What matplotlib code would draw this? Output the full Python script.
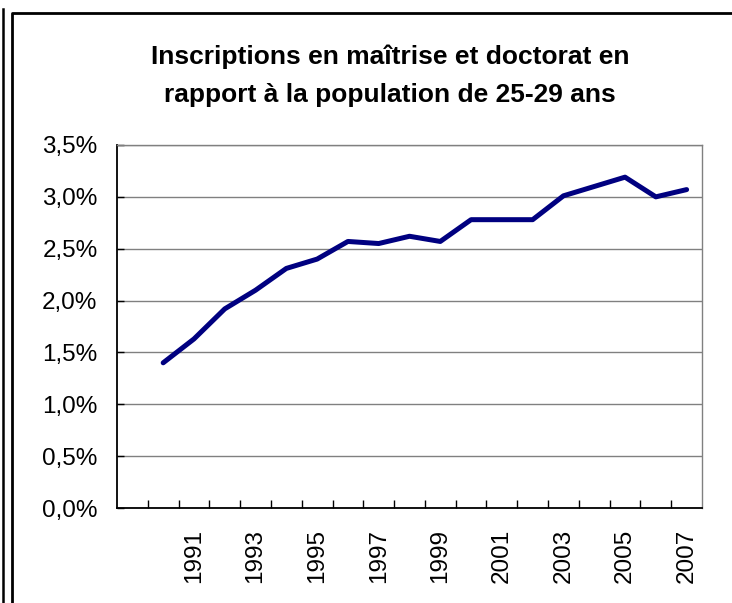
import matplotlib
matplotlib.use('Agg')
import matplotlib.pyplot as plt
from matplotlib.lines import Line2D
from matplotlib.ticker import FuncFormatter, MultipleLocator

plt.rcParams['font.family'] = ['Liberation Sans', 'DejaVu Sans']

# Données (en %), catégorie vide au début comme dans le graphique Excel
annees = ['', '1990', '1991', '1992', '1993', '1994', '1995', '1996', '1997', '1998',
          '1999', '2000', '2001', '2002', '2003', '2004', '2005', '2006', '2007']
taux = [None, 1.40, 1.63, 1.92, 2.10, 2.31, 2.40, 2.57, 2.55, 2.62,
        2.57, 2.78, 2.78, 2.78, 3.01, 3.10, 3.19, 3.00, 3.07]
titre = ['Inscriptions en maîtrise et doctorat en',
         'rapport à la population de 25-29 ans']

W, H = 732, 603
fig = plt.figure(figsize=(W / 100, H / 100), dpi=100)
ax = fig.add_axes([117 / W, 1 - 508 / H, (702 - 117) / W, (508 - 145) / H])

idx = [i for i, v in enumerate(taux) if v is not None]
vals = [taux[i] for i in idx]
ax.plot(idx, vals, color='#000080', lw=3.6, solid_capstyle='round', solid_joinstyle='round', zorder=3)

ax.set_xlim(-0.5, len(annees) - 0.5)
ax.set_ylim(0, 3.5)

# axe Y
ax.yaxis.set_major_locator(MultipleLocator(0.5))
ax.yaxis.set_major_formatter(FuncFormatter(lambda v, p: f'{v:.1f}%'.replace('.', ',')))
ax.tick_params(axis='y', direction='in', length=5, width=1, labelsize=17.5, pad=14)
ax.grid(axis='y', color='#808080', lw=1)
ax.set_axisbelow(True)

# axe X : graduations entre les catégories, étiquettes une sur deux
ax.set_xticks([i - 0.5 for i in range(1, len(annees))], minor=True)
ax.set_xticks(range(0, len(annees), 2))
ax.set_xticklabels(annees[::2], rotation=90)
ax.tick_params(axis='x', which='major', length=0, labelsize=17.5, pad=15)
ax.tick_params(axis='x', which='minor', direction='in', length=6, width=1)

for s in ['left', 'bottom']:
    ax.spines[s].set_color('black')
    ax.spines[s].set_linewidth(1.3)
for s in ['top', 'right']:
    ax.spines[s].set_color('#808080')
    ax.spines[s].set_linewidth(1)

# titre sur deux lignes
for ligne, yp in zip(titre, [57, 95]):
    fig.text(390 / W, 1 - yp / H, ligne, ha='center', va='center', fontsize=19,
             fontweight='bold')

# cadres
fig.add_artist(Line2D([3 / W, 3 / W], [0, 1 - 9 / H], color='black', lw=1.8))
fig.add_artist(Line2D([12 / W, 12 / W, 1], [0, 1 - 13 / H, 1 - 13 / H], color='black', lw=2))

fig.savefig('out.png', dpi=100)
